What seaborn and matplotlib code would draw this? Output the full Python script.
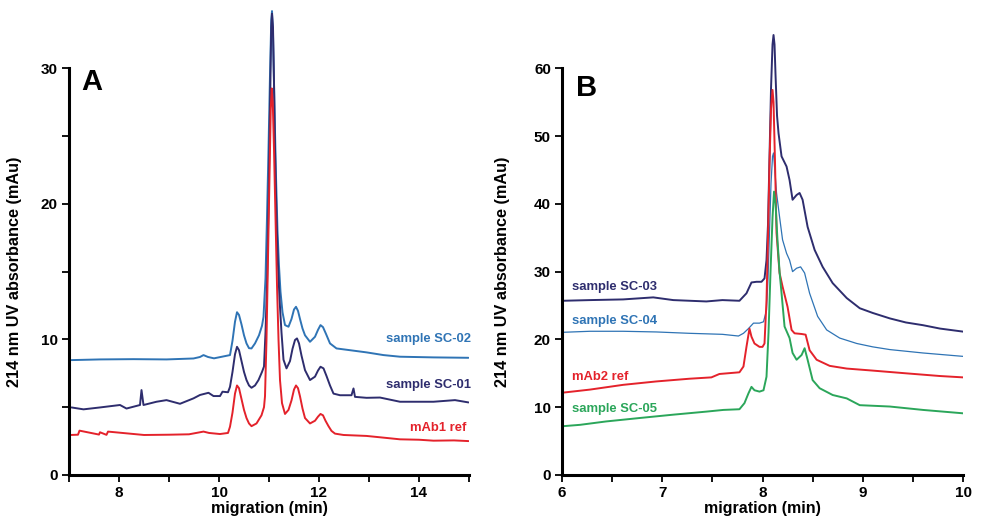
import numpy as np
import pandas as pd
import matplotlib
matplotlib.use("Agg")
import matplotlib.pyplot as plt
import seaborn as sns
from matplotlib.ticker import MultipleLocator, FixedLocator

# --- panel A : mAb1 traces (migration min, absorbance mAu) ---
a_ref_x = [7.03, 7.18, 7.21, 7.6, 7.62, 7.75, 7.78, 8.5, 9.0, 9.4, 9.69, 9.8, 10.02, 10.18, 10.22,
           10.27, 10.32, 10.36, 10.4, 10.45, 10.5, 10.55, 10.6, 10.65, 10.75, 10.85, 10.9, 10.92,
           10.95, 10.98, 11.01, 11.035, 11.055, 11.075, 11.1, 11.13, 11.16, 11.19, 11.22, 11.26,
           11.32, 11.39, 11.45, 11.5, 11.54, 11.58, 11.62, 11.67, 11.72, 11.82, 11.92, 11.98,
           12.03, 12.08, 12.13, 12.19, 12.25, 12.32, 12.49, 12.95, 13.3, 13.62, 14.0, 14.29,
           14.7, 14.99]
a_ref_y = [2.95, 2.97, 3.27, 2.98, 3.15, 2.96, 3.2, 2.95, 2.97, 3.0, 3.2, 3.1, 3.02, 3.1, 3.56,
           4.6, 6.0, 6.6, 6.4, 5.6, 4.8, 4.2, 3.8, 3.6, 3.8, 4.4, 5.0, 5.8,
           10.0, 16.0, 22.0, 27.0, 28.5, 27.5, 24.0, 19.0, 14.0, 10.0, 7.0, 5.3,
           4.5, 4.8, 5.5, 6.3, 6.6, 6.4, 5.8, 4.9, 4.2, 3.8, 4.0, 4.3,
           4.5, 4.4, 4.0, 3.6, 3.25, 3.05, 2.95, 2.88, 2.75, 2.63, 2.6, 2.53,
           2.55, 2.5]

a_sc01_x = [7.05, 7.29, 7.62, 8.02, 8.15, 8.42, 8.45, 8.49, 8.75, 8.95, 9.22, 9.49, 9.62,
            9.79, 9.89, 10.02, 10.07, 10.18, 10.22, 10.27, 10.32, 10.36, 10.4, 10.45, 10.5,
            10.55, 10.6, 10.65, 10.72, 10.79, 10.86, 10.9, 10.93, 10.96, 10.99, 11.02, 11.045,
            11.06, 11.08, 11.1, 11.12, 11.15, 11.18, 11.21, 11.25, 11.29, 11.35, 11.42, 11.47,
            11.52, 11.56, 11.6, 11.65, 11.72, 11.82, 11.92, 11.98, 12.03, 12.09, 12.15, 12.22,
            12.29, 12.42, 12.65, 12.69, 12.72, 12.95, 13.22, 13.62, 14.29, 14.72, 14.99]
a_sc01_y = [4.98, 4.84, 4.98, 5.16, 4.9, 5.16, 6.26, 5.16, 5.4, 5.52, 5.25, 5.65, 5.9,
            6.06, 5.82, 5.82, 6.14, 6.1, 6.5, 7.6, 8.9, 9.45, 9.2, 8.4, 7.6,
            7.0, 6.6, 6.43, 6.6, 7.0, 7.6, 8.0, 10.5, 14.0, 20.0, 27.0, 33.0,
            34.0, 33.0, 29.0, 24.0, 19.0, 15.5, 13.0, 10.5, 8.5, 7.86, 8.4, 9.3,
            9.95, 10.07, 9.7, 8.8, 7.73, 7.0, 7.25, 7.7, 7.98, 7.86, 7.3, 6.6,
            6.0, 5.88, 5.88, 6.38, 5.76, 5.69, 5.71, 5.4, 5.4, 5.52, 5.35]

a_sc02_x = [7.05, 7.62, 8.29, 8.95, 9.49, 9.62, 9.69, 9.78, 9.9, 10.22, 10.27, 10.32, 10.36,
            10.4, 10.45, 10.5, 10.55, 10.6, 10.65, 10.72, 10.8, 10.86, 10.89, 10.93, 10.96,
            10.99, 11.02, 11.045, 11.06, 11.08, 11.11, 11.14, 11.17, 11.2, 11.23, 11.27, 11.32,
            11.39, 11.45, 11.5, 11.54, 11.58, 11.62, 11.67, 11.72, 11.82, 11.92, 11.98, 12.03,
            12.08, 12.14, 12.22, 12.35, 12.62, 12.95, 13.29, 13.62, 14.29, 14.99]
a_sc02_y = [8.47, 8.52, 8.54, 8.52, 8.59, 8.7, 8.84, 8.7, 8.6, 8.84, 9.9, 11.3, 12.0,
            11.8, 11.1, 10.3, 9.7, 9.35, 9.33, 9.7, 10.3, 11.0, 11.66, 14.5, 19.0,
            24.0, 29.5, 33.5, 34.2, 32.5, 27.0, 22.0, 18.0, 15.4, 13.5, 12.0, 11.05,
            10.93, 11.5, 12.2, 12.4, 12.1, 11.5, 10.8, 10.3, 9.82, 10.19, 10.7, 11.05,
            10.9, 10.4, 9.7, 9.33, 9.2, 9.04, 8.84, 8.72, 8.67, 8.64]

# --- panel B : mAb2 traces ---
b_sc03_x = [6.01, 6.28, 6.61, 6.91, 7.11, 7.44, 7.6, 7.77, 7.84, 7.89, 7.94, 7.99, 8.02,
            8.04, 8.055, 8.07, 8.085, 8.1, 8.11, 8.12, 8.13, 8.145, 8.16, 8.19, 8.24, 8.27,
            8.3, 8.34, 8.37, 8.4, 8.45, 8.52, 8.6, 8.7, 8.84, 8.97, 9.1, 9.27, 9.43, 9.6,
            9.77, 10.0]
b_sc03_y = [25.7, 25.8, 25.9, 26.2, 25.8, 25.6, 25.8, 25.7, 26.8, 28.4, 28.5, 28.5, 29.0,
            31.7, 37.0, 47.0, 57.0, 63.5, 64.9, 63.5, 59.0, 53.0, 50.4, 47.0, 45.5, 43.5,
            40.6, 41.3, 41.6, 40.6, 36.6, 33.2, 30.7, 28.3, 26.1, 24.6, 23.9, 23.1, 22.5, 22.1,
            21.6, 21.15]

b_sc04_x = [6.01, 6.28, 6.61, 6.94, 7.27, 7.6, 7.76, 7.81, 7.86, 7.91, 7.97, 8.01, 8.04,
            8.055, 8.07, 8.085, 8.1, 8.11, 8.12, 8.14, 8.17, 8.2, 8.24, 8.27, 8.3, 8.34,
            8.38, 8.42, 8.47, 8.55, 8.64, 8.77, 8.94, 9.1, 9.27, 9.6, 10.0]
b_sc04_y = [21.05, 21.2, 21.2, 21.1, 20.9, 20.75, 20.5, 20.9, 21.6, 22.4, 22.4, 22.6, 24.3,
            29.0, 36.0, 43.0, 47.0, 47.5, 45.5, 41.6, 38.1, 34.7, 32.7, 31.7, 30.0, 30.5,
            30.7, 29.8, 26.8, 23.4, 21.4, 20.2, 19.4, 18.9, 18.5, 18.0, 17.5]

b_ref_x = [6.01, 6.28, 6.61, 6.94, 7.27, 7.49, 7.57, 7.77, 7.81, 7.84, 7.87, 7.89, 7.92,
           7.97, 8.0, 8.02, 8.04, 8.055, 8.07, 8.085, 8.1, 8.11, 8.125, 8.14, 8.17, 8.2,
           8.25, 8.29, 8.32, 8.39, 8.43, 8.47, 8.54, 8.67, 8.84, 9.1, 9.43, 9.77, 10.0]
b_ref_y = [12.15, 12.6, 13.3, 13.8, 14.2, 14.4, 14.9, 15.15, 16.0, 18.9, 21.6, 20.4, 19.4,
           18.9, 18.9, 19.4, 25.8, 35.0, 46.0, 54.0, 56.8, 55.0, 46.0, 35.7, 29.8, 27.8,
           24.8, 21.4, 20.9, 20.8, 20.7, 18.4, 17.0, 16.1, 15.7, 15.4, 15.0, 14.6, 14.4]

b_sc05_x = [6.01, 6.18, 6.44, 6.77, 7.11, 7.44, 7.61, 7.77, 7.82, 7.86, 7.89, 7.92, 7.97,
            8.01, 8.04, 8.06, 8.08, 8.1, 8.115, 8.13, 8.15, 8.17, 8.19, 8.22, 8.27, 8.3,
            8.34, 8.39, 8.42, 8.45, 8.5, 8.57, 8.7, 8.84, 8.97, 9.27, 9.6, 10.0]
b_sc05_y = [7.2, 7.4, 7.9, 8.4, 8.9, 9.35, 9.6, 9.7, 10.6, 12.05, 13.0, 12.5, 12.3,
            12.5, 14.5, 21.0, 30.0, 38.0, 41.8, 40.0, 34.5, 30.0, 26.8, 21.9, 20.2, 18.0,
            17.0, 17.7, 18.7, 17.0, 14.0, 12.8, 11.8, 11.3, 10.3, 10.1, 9.6, 9.1]

NAVY = "#2e2d6e"
BLUE = "#2f74b5"
RED = "#e4222b"
GREEN = "#2ba65a"

df_a = pd.concat([
    pd.DataFrame({"t": a_sc02_x, "abs": a_sc02_y, "trace": "sample SC-02"}),
    pd.DataFrame({"t": a_sc01_x, "abs": a_sc01_y, "trace": "sample SC-01"}),
    pd.DataFrame({"t": a_ref_x, "abs": a_ref_y, "trace": "mAb1 ref"}),
])
df_b = pd.concat([
    pd.DataFrame({"t": b_sc03_x, "abs": b_sc03_y, "trace": "sample SC-03"}),
    pd.DataFrame({"t": b_sc04_x, "abs": b_sc04_y, "trace": "sample SC-04"}),
    pd.DataFrame({"t": b_ref_x, "abs": b_ref_y, "trace": "mAb2 ref"}),
    pd.DataFrame({"t": b_sc05_x, "abs": b_sc05_y, "trace": "sample SC-05"}),
])

sns.set_style("ticks")
plt.rcParams['font.family'] = ['Liberation Sans', 'DejaVu Sans']
plt.rcParams['font.weight'] = 'bold'
for k in ['text.color', 'axes.labelcolor', 'xtick.color', 'ytick.color', 'axes.edgecolor']:
    plt.rcParams[k] = 'black'

fig = plt.figure(figsize=(9.81, 5.2), dpi=100)
H = 520.0
W = 981.0
axA = fig.add_axes([69 / W, 45 / H, 400 / W, 468 / H])
axB = fig.add_axes([562 / W, 45 / H, 401 / W, 461 / H])

pal_a = {"sample SC-02": BLUE, "sample SC-01": NAVY, "mAb1 ref": RED}
pal_b = {"sample SC-03": NAVY, "sample SC-04": BLUE, "mAb2 ref": RED, "sample SC-05": GREEN}

sns.lineplot(data=df_a, x="t", y="abs", hue="trace", palette=pal_a, ax=axA,
             legend=False, linewidth=1.4, sort=False)
sns.lineplot(data=df_b, x="t", y="abs", hue="trace", palette=pal_b, ax=axB,
             legend=False, linewidth=1.4, sort=False)
# SC-04 is drawn thinner in the original
for ln in axB.get_lines():
    if matplotlib.colors.to_hex(ln.get_color()) == BLUE:
        ln.set_linewidth(0.9)

def style(ax, xlim, ylim, ytop, xmaj, xmin, ymaj):
    ax.set_xlim(*xlim)
    ax.set_ylim(*ylim)
    ax.spines['top'].set_visible(False)
    ax.spines['right'].set_visible(False)
    ax.spines['left'].set_bounds(0, ytop)
    ax.spines['left'].set_linewidth(2.2)
    ax.spines['bottom'].set_linewidth(2.2)
    ax.xaxis.set_major_locator(MultipleLocator(xmaj))
    ax.xaxis.set_minor_locator(MultipleLocator(xmin))
    ax.set_yticks(list(np.arange(0, ytop + 1, ymaj)))
    ax.tick_params(which='major', length=5, width=1.3, labelsize=11, pad=3)
    ax.tick_params(which='minor', length=5, width=1.3)
    for lab in ax.get_xticklabels() + ax.get_yticklabels():
        lab.set_fontweight('bold')
    ax.set_xlabel("migration (min)", fontsize=11.5, fontweight='bold')
    ax.set_ylabel("214 nm UV absorbance (mAu)", fontsize=11.7, fontweight='bold')

style(axA, (7, 15), (0, 34.5), 30, 2, 1, 10)
style(axB, (6, 10), (0, 68), 60, 1, 0.5, 10)
axA.yaxis.set_minor_locator(FixedLocator([5, 15, 25]))
axB.yaxis.set_minor_locator(FixedLocator([]))

axA.yaxis.set_label_coords(-0.1175, 0.434)
axA.xaxis.set_label_coords(0.5, -0.0556)
axB.yaxis.set_label_coords(-0.13, 0.441)
axB.xaxis.set_label_coords(0.5, -0.0564)

axA.text(0.03, 0.84, "A", transform=axA.transAxes, fontsize=21, fontweight='bold', va='center')
axB.text(0.035, 0.84, "B", transform=axB.transAxes, fontsize=21, fontweight='bold', va='center')

lab_kw = dict(fontsize=9.4, fontweight='bold', va='center')
axA.text(15.05, 10.0, "sample SC-02", color=BLUE, ha='right', **lab_kw)
axA.text(15.05, 6.6, "sample SC-01", color=NAVY, ha='right', **lab_kw)
axA.text(14.95, 3.45, "mAb1 ref", color=RED, ha='right', **lab_kw)

axB.text(6.1, 27.7, "sample SC-03", color=NAVY, ha='left', **lab_kw)
axB.text(6.1, 22.7, "sample SC-04", color=BLUE, ha='left', **lab_kw)
axB.text(6.1, 14.5, "mAb2 ref", color=RED, ha='left', **lab_kw)
axB.text(6.1, 9.7, "sample SC-05", color=GREEN, ha='left', **lab_kw)

fig.savefig("out.png", dpi=100)
